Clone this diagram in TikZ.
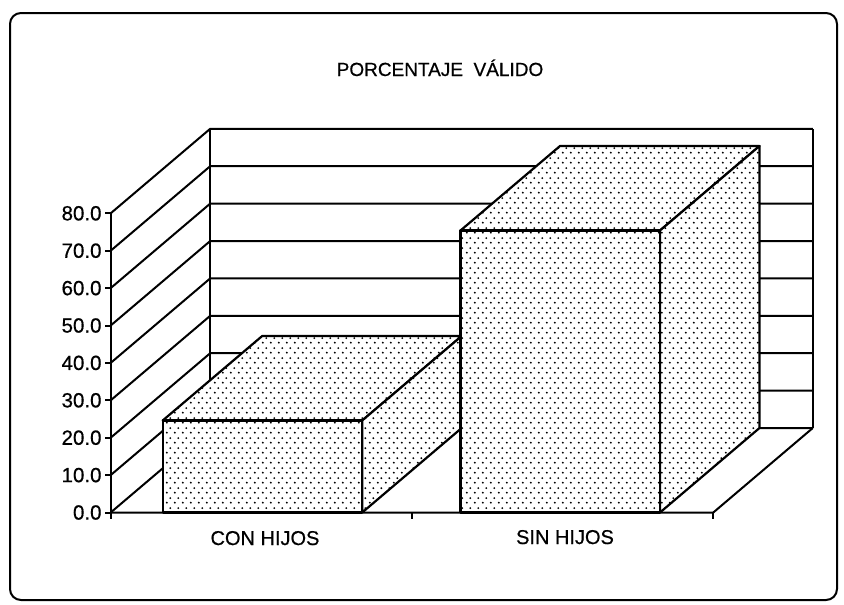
\documentclass[tikz,border=0pt]{standalone}
\usepackage{fontspec}
\setmainfont{Liberation Sans}[FakeBold=0.6]
\usetikzlibrary{patterns, calc}

\pgfdeclarepatternformonly{bardots}{\pgfqpoint{0pt}{0pt}}{\pgfqpoint{7.5pt}{10pt}}{\pgfqpoint{7.5pt}{10pt}}{
  \pgfpathcircle{\pgfqpoint{1.9pt}{2.5pt}}{1.1pt}
  \pgfpathcircle{\pgfqpoint{5.65pt}{7.5pt}}{1.1pt}
  \pgfusepath{fill}
}

\begin{document}
\begin{tikzpicture}[
            x=1pt, y=-1pt,
            wall/.style={line width=2pt, line join=round},
            barface/.style={draw, line width=2.2pt, line join=round, fill=white, postaction={pattern=bardots}},
            vallabel/.style={font=\fontsize{20.5}{24}\selectfont, anchor=east, inner sep=0pt},
            catlabel/.style={font=\fontsize{20}{24}\selectfont, anchor=base, inner sep=0pt},
            titlelabel/.style={font=\fontsize{19}{22}\selectfont, anchor=base, inner sep=0pt}
        ]
        \useasboundingbox (0,0) rectangle (844,605);
        \draw[line width=2pt, rounded corners=11pt] (10,13) rectangle (837,600);

        \node[titlelabel] (title) at (440,76) {PORCENTAJE\ \ VÁLIDO};

        % left wall, back wall and scale
        \foreach \v in {0,10,...,80} {
            \coordinate (f\v) at (110.7,{512.5-3.74*\v});
            \coordinate (b\v) at ($(f\v)+(99.5,-84.5)$);
            \coordinate (br\v) at ($(b\v)+(602.6,0)$);
            \draw[wall] (f\v) -- (b\v) -- (br\v);
            \draw[wall] (f\v) -- ++(-6,0);
            \node[vallabel] (lab\v) at ($(f\v)+(-9,0)$) {\v.0};
        }
        \draw[wall] ($(f0)+(0,6)$) -- (f80);
        \draw[wall] (b0) -- (b80);
        \draw[wall] (br0) -- (br80);

        % floor
        \coordinate (fr0) at ($(f0)+(602.6,0)$);
        \coordinate (fm0) at ($(f0)!0.5!(fr0)$);
        \draw[wall] (f0) -- (fr0) -- (br0);
        \draw[wall] (fm0) -- ++(0,6);
        \draw[wall] (fr0) -- ++(0,6);

        % bars
        \foreach \x/\v/\name in {162.7/24.6/con, 460.5/75.4/sin} {
            \coordinate (\name bl) at (\x,512.5);
            \coordinate (\name tl) at (\x,{512.5-3.74*\v});
            \coordinate (\name br) at ($(\name bl)+(199.5,0)$);
            \coordinate (\name tr) at ($(\name tl)+(199.5,0)$);
            \draw[barface] (\name tl) -- (\name tr) -- ++(99.5,-84.5) -- ($(\name tl)+(99.5,-84.5)$) -- cycle;
            \draw[barface] (\name br) -- (\name tr) -- ++(99.5,-84.5) -- ($(\name br)+(99.5,-84.5)$) -- cycle;
            \draw[barface] (\name bl) rectangle (\name tr);
        }

        \node[catlabel] (conlab) at (265,545) {CON HIJOS};
        \node[catlabel] (sinlab) at (565,544) {SIN HIJOS};

        \end{tikzpicture}
\end{document}
